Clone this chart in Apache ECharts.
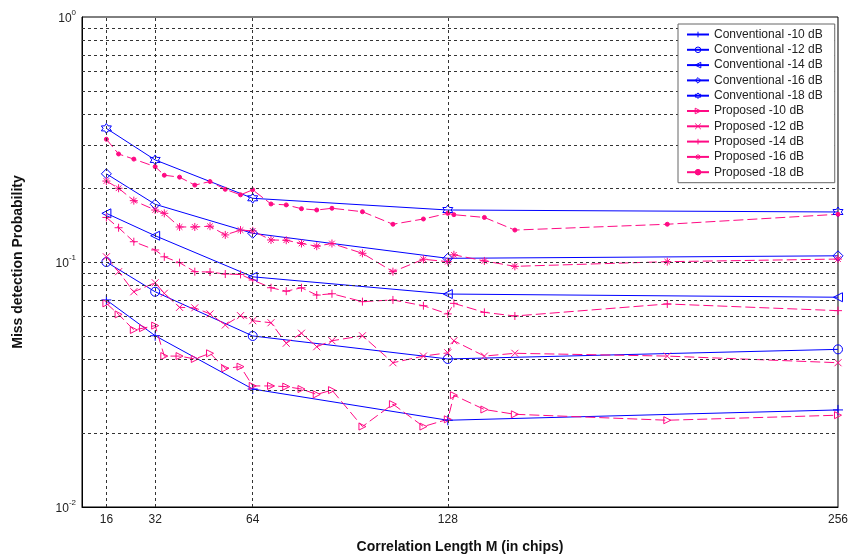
<!DOCTYPE html>
<html>
<head>
<meta charset="utf-8">
<script src="https://cdn.jsdelivr.net/npm/echarts@6/dist/echarts.min.js"></script>
<style>
	html, body {margin: 0; padding: 0; background: #fff;}
	#main {width: 851px; height: 560px;}
</style>
</head>
<body>
<div id="main"></div>
<script>
	// conventional detector, simulated at 5 lengths
	var convX = [16, 32, 64, 128, 256];
	var conv10 = [0.070, 0.050, 0.0303, 0.0226, 0.0249];
	var conv12 = [0.100, 0.0756, 0.0499, 0.0402, 0.044];
	var conv14 = [0.158, 0.128, 0.087, 0.074, 0.0718];
	var conv16 = [0.229, 0.172, 0.131, 0.1035, 0.106];
	var conv18 = [0.351, 0.261, 0.182, 0.163, 0.160];

	// proposed detector (null = no point at that length)
	var propX = [16, 20, 25, 28, 32, 35, 40, 45, 50, 55, 60, 64, 70, 75, 80, 85, 90, 100, 110, 120, 128, 130, 140, 150, 200, 256];
	var prop10 = [0.0678, 0.0611, 0.0528, 0.0537, 0.055, 0.0413, 0.0413, 0.0402, 0.0424, 0.0368, 0.0374, 0.0312, 0.0312, 0.031, 0.0303, 0.0288, 0.030, 0.0213, 0.0263, 0.0213, 0.0228, 0.0286, 0.0250, 0.0239, 0.0226, 0.0237];
	var prop12 = [0.105, 0.0913, 0.0756, null, 0.0823, 0.0745, 0.0653, 0.065, 0.0614, 0.0553, 0.0604, 0.0576, 0.0565, 0.0466, 0.0512, 0.0451, 0.0477, 0.050, 0.0388, 0.0413, 0.0426, 0.0477, 0.0413, 0.0424, 0.0413, 0.0388];
	var prop14 = [0.152, 0.138, 0.121, null, 0.112, 0.105, 0.0994, 0.0913, 0.091, 0.0893, 0.089, 0.0844, 0.0785, 0.076, 0.0785, 0.0733, 0.0742, 0.0689, 0.070, 0.0663, 0.0614, 0.0678, 0.0623, 0.0602, 0.0674, 0.0633];
	var prop16 = [0.214, 0.200, 0.178, null, 0.163, 0.158, 0.139, 0.139, 0.140, 0.129, 0.135, 0.134, 0.123, 0.1227, 0.119, 0.116, 0.119, 0.1085, 0.0913, 0.1026, 0.1003, 0.107, 0.101, 0.096, 0.1003, 0.1028];
	var prop18 = [0.317, 0.276, 0.263, null, 0.245, 0.226, 0.222, 0.206, 0.213, 0.198, 0.188, 0.197, 0.1725, 0.171, 0.165, 0.163, 0.1657, 0.1604, 0.1426, 0.1498, 0.158, 0.156, 0.152, 0.135, 0.1426, 0.1566];

	var xTickLabels = [16, 32, 64, 128, 256];
	var xGrid = [16, 32, 64, 128];
	var yGrid = [0.02, 0.03, 0.04, 0.05, 0.06, 0.07, 0.08, 0.09, 0.1, 0.2, 0.3, 0.4, 0.5, 0.6, 0.7, 0.8, 0.9];

	var blue = '#0000ff';
	var pink = '#ff0a84';
	var clear = 'rgba(0,0,0,0)';
	var font = '"Liberation Sans", Arial, sans-serif';

	var sym = {
		plus: 'path://M5,0L5,10M0,5L10,5',
		cross: 'path://M0,0L10,10M10,0L0,10',
		left: 'path://M0,5L10,0L10,10Z',
		right: 'path://M10,5L0,0L0,10Z',
		diamond: 'path://M5,0L10,5L5,10L0,5Z',
		star: 'path://M5,0L5,10M0,5L10,5M1.5,1.5L8.5,8.5M8.5,1.5L1.5,8.5',
		hexagram: 'path://M5,0L6.443,2.5L9.33,2.5L7.887,5L9.33,7.5L6.443,7.5L5,10L3.557,7.5L0.67,7.5L2.113,5L0.67,2.5L3.557,2.5Z'
	};

	function pairs(xs, ys) {
		var out = [];
		for (var i = 0; i < xs.length; i++) {
			if (ys[i] != null) out.push([xs[i], ys[i]]);
		}
		return out;
	}

	function conv(name, ys, symbol, size) {
		return {
			name: name, type: 'line', data: pairs(convX, ys),
			symbol: symbol, symbolSize: size, showSymbol: true,
			lineStyle: {color: blue, width: 1},
			itemStyle: {color: clear, borderColor: blue, borderWidth: 1},
			z: 3
		};
	}
	function prop(name, ys, symbol, size, filled) {
		return {
			name: name, type: 'line', data: pairs(propX, ys),
			symbol: symbol, symbolSize: size, showSymbol: true,
			lineStyle: {color: pink, width: 1, type: [10, 4]},
			itemStyle: {color: filled ? pink : clear, borderColor: pink, borderWidth: 1},
			z: 3
		};
	}
	function legendItem(name, c, filled) {
		return {name: name, itemStyle: {color: filled ? c : clear, borderColor: c, borderWidth: 1}};
	}

	var myChart = echarts.init(document.getElementById('main'));
	option = {
		animation: false,
		backgroundColor: '#fff',
		grid: {left: 82, top: 17, right: 10, bottom: 53, show: true, borderColor: '#000', borderWidth: 1},
		legend: {
			orient: 'vertical',
			left: 678, top: 24, z: 10,
			padding: [4, 12, 4, 8],
			backgroundColor: '#fff',
			borderColor: '#666', borderWidth: 1,
			itemWidth: 22, itemHeight: 7, itemGap: 2.3,
			lineStyle: {type: 'solid'},
			textStyle: {fontFamily: font, fontSize: 12, color: '#222', lineHeight: 13},
			data: [
				legendItem('Conventional -10 dB', blue), legendItem('Conventional -12 dB', blue),
				legendItem('Conventional -14 dB', blue), legendItem('Conventional -16 dB', blue),
				legendItem('Conventional -18 dB', blue),
				legendItem('Proposed -10 dB', pink), legendItem('Proposed -12 dB', pink),
				legendItem('Proposed -14 dB', pink), legendItem('Proposed -16 dB', pink),
				legendItem('Proposed -18 dB', pink, true)
			]
		},
		xAxis: {
			type: 'value', min: 8, max: 256, interval: 8,
			name: 'Correlation Length M (in chips)', nameLocation: 'middle', nameGap: 33,
			nameTextStyle: {fontFamily: font, fontSize: 14, fontWeight: 'bold', color: '#111'},
			axisLine: {lineStyle: {color: '#000'}},
			axisTick: {show: false},
			splitLine: {show: false},
			axisLabel: {
				interval: 0, margin: 7, color: '#222', fontFamily: font, fontSize: 12,
				formatter: function (v) { return xTickLabels.indexOf(v) >= 0 ? String(v) : ''; }
			}
		},
		yAxis: {
			type: 'log', logBase: 10, min: 0.01, max: 1,
			name: 'Miss detection Probability', nameLocation: 'middle', nameGap: 57,
			nameTextStyle: {fontFamily: font, fontSize: 14, fontWeight: 'bold', color: '#111'},
			axisLine: {lineStyle: {color: '#000'}},
			axisTick: {show: false},
			splitLine: {show: false},
			axisLabel: {
				margin: 6,
				formatter: function (v) { return '{b|10}{s|' + Math.round(Math.log10(v)) + '}'; },
				rich: {
					b: {fontFamily: font, fontSize: 12, color: '#222', lineHeight: 16, verticalAlign: 'bottom'},
					s: {fontFamily: font, fontSize: 8, color: '#222', lineHeight: 16, verticalAlign: 'top'}
				}
			}
		},
		series: [
			{
				name: 'grid', type: 'line', data: [], z: 1, silent: true,
				markLine: {
					silent: true, symbol: ['none', 'none'], label: {show: false},
					lineStyle: {color: '#333', width: 1, type: [3, 3]},
					emphasis: {disabled: true},
					data: yGrid.map(function (v) { return {yAxis: v}; })
						.concat(xGrid.map(function (v) { return {xAxis: v}; }))
				}
			},
			conv('Conventional -10 dB', conv10, sym.plus, 10),
			conv('Conventional -12 dB', conv12, 'circle', 9),
			conv('Conventional -14 dB', conv14, sym.left, 9),
			conv('Conventional -16 dB', conv16, sym.diamond, 10),
			conv('Conventional -18 dB', conv18, sym.hexagram, 10),
			prop('Proposed -10 dB', prop10, sym.right, 7, false),
			prop('Proposed -12 dB', prop12, sym.cross, 7, false),
			prop('Proposed -14 dB', prop14, sym.plus, 8, false),
			prop('Proposed -16 dB', prop16, sym.star, 8, false),
			prop('Proposed -18 dB', prop18, 'circle', 4, true)
		]
	};
	myChart.setOption(option);
</script>
</body>
</html>
